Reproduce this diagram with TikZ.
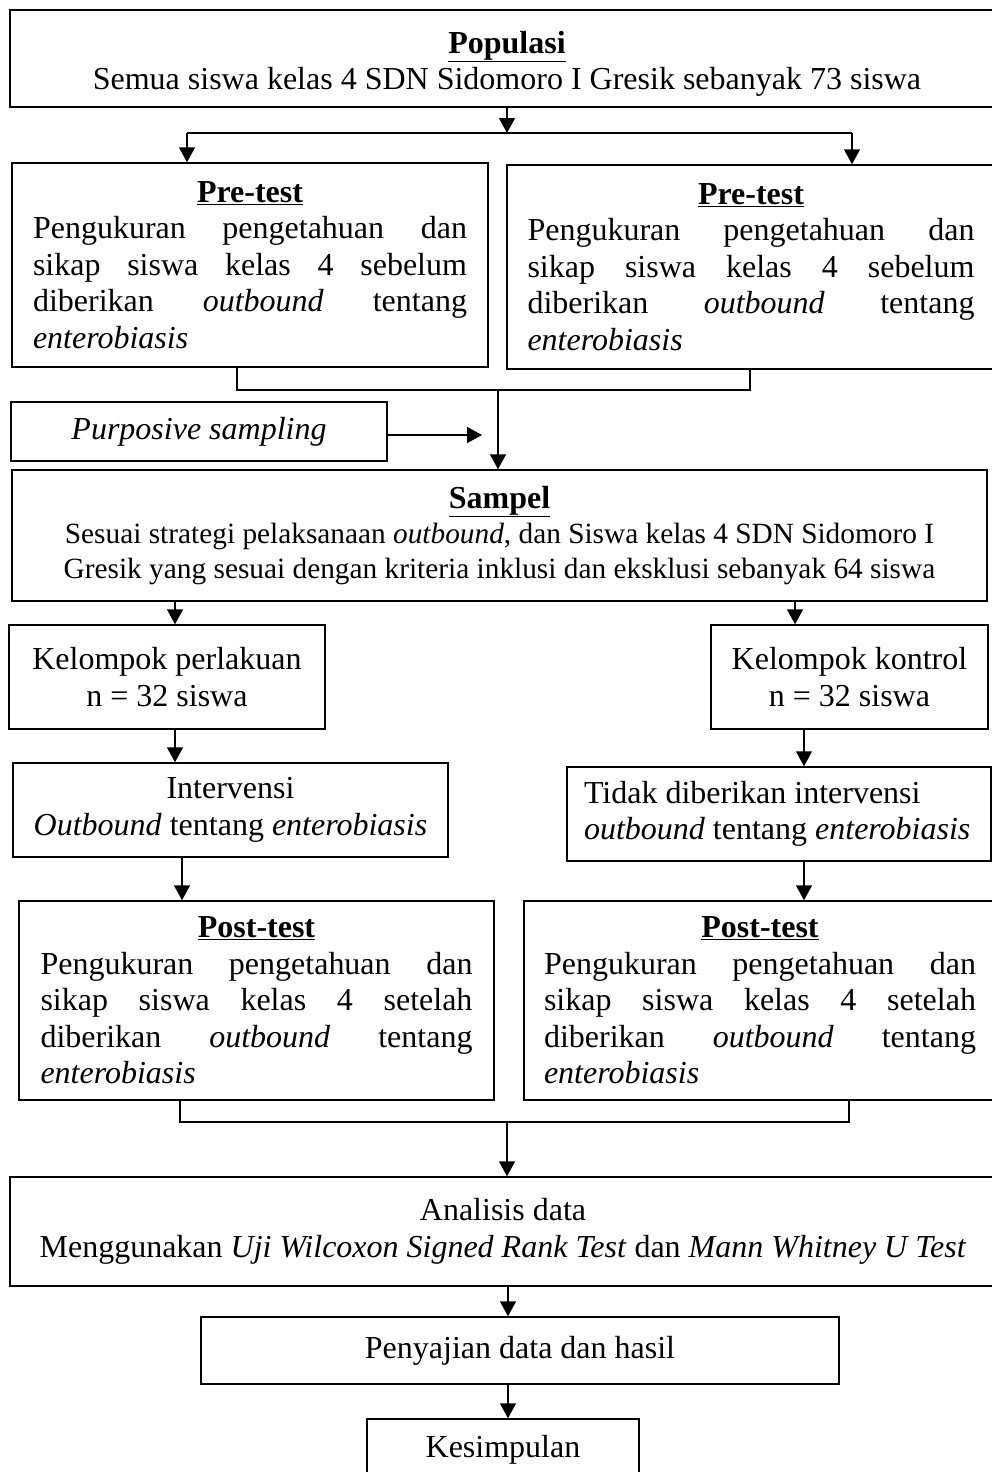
\documentclass[tikz,border=0pt]{standalone}
\usepackage{fontspec}
\setmainfont{Liberation Serif}
\usetikzlibrary{arrows.meta}
\hyphenpenalty=10000
\exhyphenpenalty=10000
\begin{document}
\begin{tikzpicture}[x=1pt,y=-1pt,
  box/.style={draw, line width=1.5pt, inner sep=0pt, font=\fontsize{32}{36.5}\selectfont},
  txt/.style={inner sep=0pt, font=\fontsize{32}{36.5}\selectfont},
  arr/.style={line width=1.5pt, -{Triangle[length=15pt,width=16pt]}},
  ln/.style={line width=1.5pt}]
\useasboundingbox (0,0) rectangle (992,1472);
% boxes
\node[box, minimum width=984pt, minimum height=97pt] (pop) at (502,58.5) {};
\node[txt, align=flush center] (popt) at (507,64)
  {\textbf{\underline{Populasi}}\\Semua siswa kelas 4 SDN Sidomoro I Gresik sebanyak 73 siswa};
\node[box, minimum width=476pt, minimum height=204pt, text width=434pt] (preL) at (250,265)
  {\centerline{\textbf{\underline{Pre-test}}}
   Pengukuran\hfill pengetahuan\hfill dan\\
   sikap\hfill siswa\hfill kelas\hfill 4\hfill sebelum\\
   diberikan\hfill \textit{outbound}\hfill tentang\\
   \textit{enterobiasis}};
\node[box, minimum width=488pt, minimum height=204pt, text width=447pt] (preR) at (751,267)
  {\centerline{\textbf{\underline{Pre-test}}}
   Pengukuran\hfill pengetahuan\hfill dan\\
   sikap\hfill siswa\hfill kelas\hfill 4\hfill sebelum\\
   diberikan\hfill \textit{outbound}\hfill tentang\\
   \textit{enterobiasis}};
\node[box, minimum width=376pt, minimum height=59pt] (purp) at (199,431.5)
  {\textit{Purposive sampling}};
\node[box, minimum width=975pt, minimum height=131pt, align=flush center] (samp) at (499.5,535.5)
  {\textbf{\underline{Sampel}}\\[-1pt]
   {\fontsize{29.33}{34}\selectfont Sesuai strategi pelaksanaan \textit{outbound}, dan Siswa kelas 4 SDN Sidomoro I}\\[-2pt]
   {\fontsize{29.33}{34}\selectfont Gresik yang sesuai dengan kriteria inklusi dan eksklusi sebanyak 64 siswa}};
\node[box, minimum width=316pt, minimum height=104pt, align=flush center] (kp) at (167,677)
  {Kelompok perlakuan\\n = 32 siswa};
\node[box, minimum width=277pt, minimum height=104pt, align=flush center] (kk) at (849.5,677)
  {Kelompok kontrol\\n = 32 siswa};
\node[box, minimum width=435pt, minimum height=94pt, align=flush center] (int) at (230.5,810)
  {Intervensi\\\textit{Outbound} tentang \textit{enterobiasis}};
\node[box, minimum width=424pt, minimum height=94pt, text width=390pt, align=flush left] (tidak) at (779,814)
  {Tidak diberikan intervensi\\\textit{outbound} tentang \textit{enterobiasis}};
\node[box, minimum width=475pt, minimum height=199pt, text width=432pt] (postL) at (256.5,1000.5)
  {\centerline{\textbf{\underline{Post-test}}}
   Pengukuran\hfill pengetahuan\hfill dan\\
   sikap\hfill siswa\hfill kelas\hfill 4\hfill setelah\\
   diberikan\hfill \textit{outbound}\hfill tentang\\
   \textit{enterobiasis}};
\node[box, minimum width=472pt, minimum height=199pt, text width=432pt] (postR) at (760,1000.5)
  {\centerline{\textbf{\underline{Post-test}}}
   Pengukuran\hfill pengetahuan\hfill dan\\
   sikap\hfill siswa\hfill kelas\hfill 4\hfill setelah\\
   diberikan\hfill \textit{outbound}\hfill tentang\\
   \textit{enterobiasis}};
\node[box, minimum width=986pt, minimum height=109pt, align=flush center] (ana) at (503,1231.5)
  {Analisis data\\Menggunakan \textit{Uji Wilcoxon Signed Rank Test} dan \textit{Mann Whitney U Test}};
\node[box, minimum width=638pt, minimum height=67pt] (pen) at (520,1350.5)
  {Penyajian data dan hasil};
\node[box, minimum width=272pt, minimum height=61pt] (kes) at (503,1449.5)
  {Kesimpulan};
% connectors
\coordinate (j) at (507,133);
\coordinate (jL) at (187,133);
\coordinate (jR) at (852,133);
\draw[arr] (j |- pop.south) -- (j);
\draw[ln] (jL) -- (jR);
\draw[arr] (jL) -- (jL |- preL.north);
\draw[arr] (jR) -- (jR |- preR.north);
\coordinate (cL) at (237,390);
\coordinate (cR) at (750,390);
\coordinate (cM) at (498,390);
\draw[ln] (cL |- preL.south) -- (cL) -- (cR) -- (cR |- preR.south);
\draw[arr] (cM) -- (cM |- samp.north);
\coordinate (pa) at (482,435);
\draw[arr] (purp.east |- pa) -- (pa);
\coordinate (a1) at (175,0);
\coordinate (a2) at (795,0);
\coordinate (a3) at (182,0);
\coordinate (a4) at (804,0);
\coordinate (a5) at (508,0);
\draw[arr] (samp.south -| a1) -- (kp.north -| a1);
\draw[arr] (samp.south -| a2) -- (kk.north -| a2);
\draw[arr] (kp.south -| a1) -- (int.north -| a1);
\draw[arr] (kk.south -| a4) -- (tidak.north -| a4);
\draw[arr] (int.south -| a3) -- (postL.north -| a3);
\draw[arr] (tidak.south -| a4) -- (postR.north -| a4);
\coordinate (dL) at (180,1122);
\coordinate (dR) at (849,1122);
\coordinate (dM) at (507,1122);
\draw[ln] (dL |- postL.south) -- (dL) -- (dR) -- (dR |- postR.south);
\draw[arr] (dM) -- (dM |- ana.north);
\draw[arr] (ana.south -| a5) -- (pen.north -| a5);
\draw[arr] (pen.south -| a5) -- (kes.north -| a5);
\end{tikzpicture}
\end{document}
